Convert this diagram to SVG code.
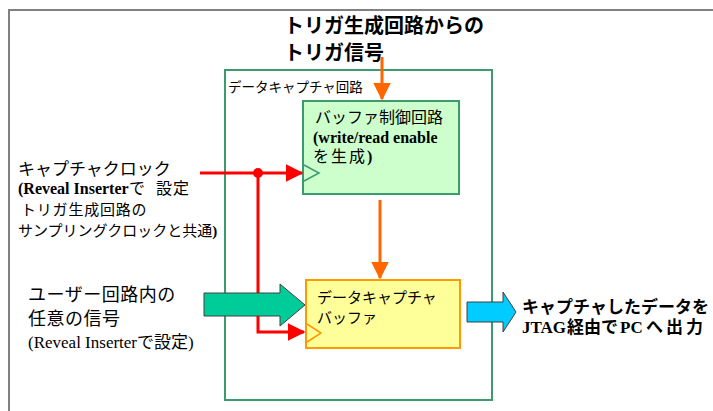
<svg xmlns="http://www.w3.org/2000/svg" width="713" height="411" viewBox="0 0 713 411">
<style>
.jp{font-family:"Noto Sans CJK JP","Liberation Sans",sans-serif;fill:#000}
.mx{font-family:"Liberation Serif","Noto Sans CJK JP",serif;fill:#000}
.b{font-weight:bold}
.red{stroke:#FF0000;stroke-width:3;fill:none}
.org{stroke:#FF6600;stroke-width:3;fill:none}
</style>
<defs>
<marker id="ah-red" markerWidth="6" markerHeight="6" refX="5.5" refY="3" orient="auto" markerUnits="strokeWidth"><path d="M0,0 L6,3 L0,6 Z" fill="#FF0000"/></marker>
<marker id="ah-org" markerWidth="6" markerHeight="6" refX="5.5" refY="3" orient="auto" markerUnits="strokeWidth"><path d="M0,0 L6,3 L0,6 Z" fill="#FF6600"/></marker>
</defs>
<rect width="713" height="411" fill="#fff"/>
<path d="M9,411 V10 H713" fill="none" stroke="#808080" stroke-width="2"/>

<g id="title">
<text class="jp b" x="284" y="33" font-size="20">トリガ生成回路からの</text>
<text class="jp b" x="284" y="60" font-size="20">トリガ信号</text>
</g>

<g id="capture-circuit">
<rect x="225" y="70" width="267" height="330" fill="none" stroke="#3C9A6E" stroke-width="2"/>
<text class="jp" x="228" y="92" font-size="13.5">データキャプチャ回路</text>
</g>

<g id="buffer-control">
<rect x="303" y="101" width="156" height="93" fill="#CCFFCC" stroke="#3C9A6E" stroke-width="2"/>
<text class="jp" x="315" y="123" font-size="16">バッファ制御回路</text>
<text class="mx b" x="313" y="143" font-size="16">(write/read enable</text>
<text class="mx" x="313" y="162" font-size="16"><tspan letter-spacing="2">を生成</tspan><tspan font-weight="bold">)</tspan></text>
<path d="M304,165 L319,173 L304,181" fill="none" stroke="#3C9A6E" stroke-width="1.5"/>
</g>

<g id="capture-buffer">
<rect x="306" y="280" width="154" height="68" fill="#FFFF99" stroke="#FF9900" stroke-width="2"/>
<text class="jp" x="317" y="303" font-size="15">データキャプチャ</text>
<text class="jp" x="317" y="323" font-size="15">バッファ</text>
<path d="M307,324 L321,333 L307,342" fill="none" stroke="#FF9900" stroke-width="1.5"/>
</g>

<g id="clock-label">
<text class="jp" x="18" y="175" font-size="17">キャプチャクロック</text>
<text class="mx" y="194" font-size="16"><tspan x="18" font-weight="bold">(Reveal Inserter</tspan><tspan x="129">で</tspan><tspan x="156" letter-spacing="1">設定</tspan></text>
<text class="jp" x="21" y="215" font-size="15" letter-spacing="0.8">トリガ生成回路の</text>
<text class="mx" x="18" y="236" font-size="15"><tspan>サンプリングクロックと共通</tspan><tspan font-weight="bold">)</tspan></text>
</g>

<g id="user-signal-label">
<text class="jp" x="28" y="301" font-size="18" letter-spacing="0.5">ユーザー回路内の</text>
<text class="jp" x="28" y="325" font-size="18" letter-spacing="0.5">任意の信号</text>
<text class="mx" x="28" y="348" font-size="17">(Reveal Inserterで設定)</text>
</g>

<g id="output-label">
<text class="jp b" x="522" y="313" font-size="17" textLength="187" lengthAdjust="spacing">キャプチャしたデータを</text>
<text class="mx b" y="333" font-size="17"><tspan x="522">JTAG</tspan><tspan x="567">経由で</tspan><tspan x="620">PC</tspan><tspan x="646" letter-spacing="3">へ出力</tspan></text>
</g>

<g id="connectors">
<line class="org" x1="382" y1="57" x2="382" y2="99" marker-end="url(#ah-org)"/>
<line class="org" x1="380" y1="200" x2="380" y2="278" marker-end="url(#ah-org)"/>
<line class="red" x1="200" y1="173" x2="302" y2="173" marker-end="url(#ah-red)"/>
<polyline class="red" points="258,173 258,332 304,332" marker-end="url(#ah-red)"/>
<circle cx="258" cy="173" r="5" fill="#FF0000"/>
<path d="M204,293 H280 V284 L305,305 L280,326 V316 H204 Z" fill="#00CC99" stroke="#404040" stroke-width="1"/>
<path d="M467,302 H503 V292 L516,312 L503,332 V322 H467 Z" fill="#00CCFF" stroke="#404040" stroke-width="1"/>
</g>
</svg>
